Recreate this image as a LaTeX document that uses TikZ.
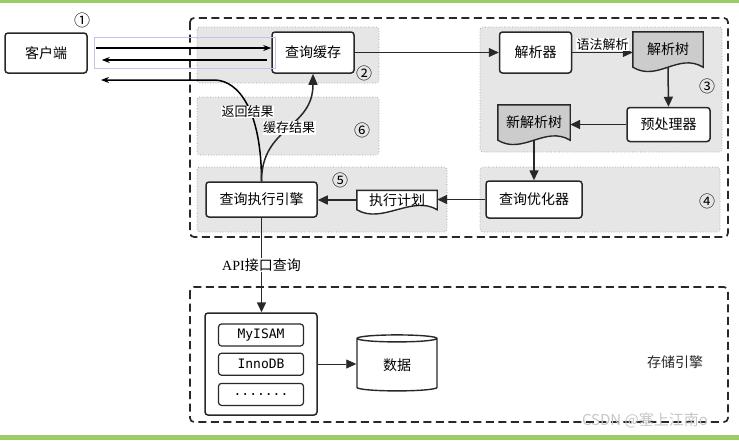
\documentclass[tikz,border=0pt]{standalone}
\usepackage{fontspec}
\setmainfont{Noto Sans CJK SC}
\newfontfamily\codefont{DejaVu Sans Mono}
\newfontfamily\apifont{Liberation Serif}
\usetikzlibrary{shapes,shapes.geometric,arrows.meta,positioning,calc,backgrounds}

\definecolor{barcol}{RGB}{156,204,101}
\definecolor{selcol}{RGB}{200,195,232}
\definecolor{regfill}{RGB}{230,230,230}
\definecolor{docfill}{RGB}{204,204,204}
\definecolor{ink}{RGB}{40,40,40}

% wavy-bottom document outline drawn behind a node
\newcommand{\docpath}[2]{%
  \path[draw=ink, line width=1.4pt, fill=#2] (#1.south west) -- (#1.north west) -- (#1.north east) -- (#1.south east)
    .. controls +(-25,-15) and +(25,15) .. (#1.south west) -- cycle;}

\begin{document}
\begin{tikzpicture}[
    x=1pt, y=-1pt,
    proc/.style={rectangle, draw=ink, fill=white, line width=1.5pt, rounded corners=3pt, inner sep=0pt, text centered, font=\fontsize{14}{16}\selectfont},
    docbox/.style={rectangle, inner sep=0pt, text centered, font=\fontsize{14}{16}\selectfont},
    slot/.style={rectangle, draw=ink, line width=1.2pt, rounded corners=3pt, inner sep=0pt, minimum width=85pt, minimum height=22pt, font=\codefont\fontsize{13}{15}\selectfont},
    region/.style={draw=gray!80, dotted, line width=0.7pt, fill=regfill, rounded corners=3pt},
    frame/.style={draw=ink, line width=1.7pt, dash pattern=on 8pt off 4.5pt, rounded corners=4pt},
    lbl/.style={fill=white, inner sep=0.5pt, font=\fontsize{13}{15}\selectfont},
    num/.style={inner sep=0pt, font=\fontsize{16}{16}\selectfont},
    tarrow/.style={-{Triangle[length=10pt,width=9pt]}, line width=1.5pt, draw=ink},
    thinarrow/.style={-{Triangle[length=10pt,width=9pt]}, line width=0.7pt, draw=ink},
    carrow/.style={-{Stealth[length=8pt,width=6pt]}, line width=1.4pt, black},
    curve/.style={line width=1.5pt, draw=black}
]
    \useasboundingbox (0,0) rectangle (739,440);

    % Frames and regions
    \begin{scope}[on background layer]
        \fill[barcol] (0,0) rectangle (739,3);
        \fill[barcol] (0,435) rectangle (739,440);
        \draw[frame] (190,18) rectangle (728,237);
        \draw[frame] (190,287) rectangle (728,422);
        \path[region] (197,27) rectangle (379,83);
        \path[region] (480,27) rectangle (722,152);
        \path[region] (197,97) rectangle (379,155);
        \path[region] (197,167) rectangle (447,232);
        \path[region] (480,167) rectangle (720,232);
    \end{scope}

    % Client and query cache
    \node[proc, minimum width=82pt, minimum height=40pt] (client) at (46,53) {客户端};
    \node[proc, minimum width=82pt, minimum height=41pt] (cache) at (313,52.5) {查询缓存};

    % Parsing stage
    \node[proc, minimum width=72pt, minimum height=41pt, right=144pt of cache] (parser) {解析器};
    \node[docbox, minimum width=70pt, minimum height=35pt] (ptree) at (668,49.5) {解析树};
    \node[proc, minimum width=83pt, minimum height=34pt] (prep) at (668.5,124.5) {预处理器};
    \node[docbox, minimum width=72pt, minimum height=35pt] (ntree) at (534,122.5) {新解析树};

    % Optimising and execution
    \node[proc, minimum width=96pt, minimum height=37pt] (optim) at (534,199.5) {查询优化器};
    \node[docbox, minimum width=80pt, minimum height=19pt] (plan) at (397,200) {执行计划};
    \node[proc, minimum width=111pt, minimum height=35pt] (engine) at (261.5,199.5) {查询执行引擎};

    % Storage engines
    \node[proc, minimum width=112pt, minimum height=102pt] (store) at (261,364) {};
    \node[slot] (myisam) at (261,335) {MyISAM};
    \node[slot, below=6pt of myisam] (innodb) {InnoDB};
    \node[slot, below=7pt of innodb] (more) {.......};
    \node[cylinder, shape border rotate=90, aspect=0.25, draw=ink, line width=1.4pt, fill=white,
          minimum width=80pt, minimum height=56pt, inner sep=0pt, font=\fontsize{14}{16}\selectfont] (data) at (397,365) {数据};
    \node[font=\fontsize{14}{16}\selectfont, text=ink] (storelbl) at (675,362) {存储引擎};

    % Document outlines
    \begin{scope}[on background layer]
        \docpath{ptree}{docfill}
        \docpath{ntree}{docfill}
        \docpath{plan}{white}
    \end{scope}

    % Step numbers
    \node[num] (n1) at (82,20) {①};
    \node[num] (n2) at (364,73) {②};
    \node[num] (n3) at (707,86) {③};
    \node[num] (n4) at (707,201) {④};
    \node[num] (n5) at (340,180) {⑤};
    \node[num] (n6) at (362,130) {⑥};

    % Client traffic
    \draw[selcol, line width=1pt] (94,37) rectangle (275,68);
    \draw[carrow] ([xshift=8pt,yshift=5pt]client.east) -- ([yshift=4.5pt]cache.west);
    \draw[carrow] ([xshift=-4pt,yshift=-7.5pt]cache.west) -- ([xshift=14pt,yshift=-7pt]client.east);
    \coordinate (retturn) at (214,80);
    \coordinate (retend) at (101,80);
    \draw[curve, -{Stealth[length=8pt,width=6pt]}] (engine.north) .. controls +(0,-70) and +(25,0) .. (retturn) -- (retend);
    \draw[curve, -{Triangle[length=11pt,width=9pt]}, draw=ink] (engine.north) .. controls +(0,-55) and +(0,55) .. (cache.south);
    \node[lbl] (retlbl) at (247.5,112) {返回结果};
    \node[lbl] (cachelbl) at (289,128) {缓存结果};

    % Arrows
    \draw[thinarrow] (cache.east) -- (parser.west);
    \draw[thinarrow] (parser.east) -- node[lbl, above=1pt] {语法解析} (ptree.west |- parser.east);
    \draw[tarrow] (ptree.south) -- (prep.north);
    \draw[tarrow] (prep.west) -- (prep.west -| ntree.east);
    \draw[tarrow] (ntree.south) -- (optim.north);
    \draw[tarrow] (optim.west) -- (optim.west -| plan.east);
    \draw[tarrow] (plan.west) -- (plan.west -| engine.east);
    \draw[tarrow] (engine.south) -- node[lbl, font=\fontsize{14}{16}\selectfont] {{\apifont API}接口查询} (engine.south |- store.north);
    \draw[thinarrow] (store.east) -- (store.east -| data.west);

    % Watermark
    \node[text=gray!45, font=\fontsize{15}{17}\selectfont] (mark) at (645,420) {CSDN @塞上江南o};
\end{tikzpicture}
\end{document}
